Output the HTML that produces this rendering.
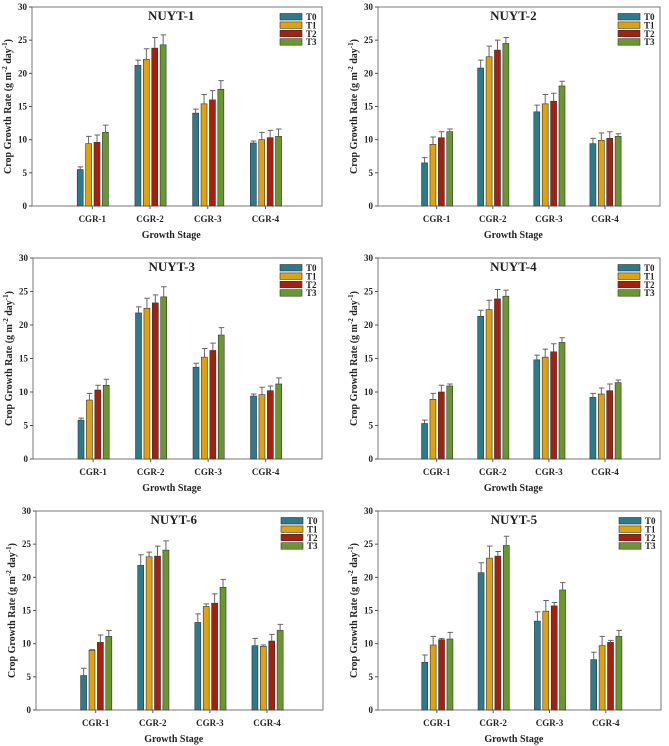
<!DOCTYPE html>
<html><head><meta charset="utf-8"><style>
html,body{margin:0;padding:0;background:#fff;}
svg{display:block;font-family:"Liberation Serif",serif;font-weight:bold;}
</style></head><body>
<svg id="c" width="669" height="746" viewBox="0 0 669 746" xmlns="http://www.w3.org/2000/svg"></svg>
<script>
const categories = ["CGR-1","CGR-2","CGR-3","CGR-4"];
const seriesNames = ["T0","T1","T2","T3"];
const yTicks = [0,5,10,15,20,25,30];
const panelTitles = ["NUYT-1","NUYT-2","NUYT-3","NUYT-4","NUYT-6","NUYT-5"];
// values[panel][series][category]
const nuyt1 = [[5.5,21.2,14.0,9.5],[9.4,22.1,15.4,10.0],[9.6,23.8,16.0,10.3],[11.1,24.3,17.6,10.5]];
const nuyt1Err = [[0.4,0.8,0.6,0.3],[1.1,1.6,1.4,1.1],[1.1,1.6,1.4,1.1],[1.1,1.5,1.3,1.1]];
const nuyt2 = [[6.5,20.8,14.2,9.4],[9.3,22.5,15.4,9.9],[10.3,23.5,15.8,10.2],[11.2,24.5,18.1,10.5]];
const nuyt2Err = [[0.8,1.2,1.0,0.8],[1.1,1.6,1.4,1.1],[0.9,1.5,1.2,1.0],[0.4,0.9,0.7,0.4]];
const nuyt3 = [[5.8,21.8,13.7,9.4],[8.8,22.5,15.2,9.6],[10.3,23.3,16.2,10.2],[11.0,24.2,18.5,11.2]];
const nuyt3Err = [[0.3,0.9,0.6,0.3],[1.0,1.5,1.3,1.1],[0.7,1.2,1.1,0.7],[0.9,1.5,1.1,0.9]];
const nuyt4 = [[5.3,21.3,14.8,9.2],[8.9,22.3,15.2,9.7],[10.0,23.9,16.0,10.2],[10.9,24.3,17.4,11.4]];
const nuyt4Err = [[0.5,0.9,0.7,0.6],[0.9,1.4,1.2,0.9],[1.0,1.4,1.2,1.0],[0.3,0.9,0.7,0.4]];
const nuyt6 = [[5.2,21.8,13.2,9.7],[9.0,23.1,15.6,9.6],[10.2,23.2,16.1,10.4],[11.1,24.1,18.5,12.0]];
const nuyt6Err = [[1.1,1.6,1.3,1.1],[0.1,0.7,0.4,0.2],[1.1,1.5,1.4,1.0],[0.9,1.4,1.2,0.9]];
const nuyt5 = [[7.2,20.7,13.4,7.6],[9.8,22.9,14.9,9.7],[10.6,23.2,15.7,10.2],[10.7,24.8,18.1,11.1]];
const nuyt5Err = [[1.1,1.5,1.4,1.1],[1.3,1.8,1.6,1.4],[0.2,0.7,0.5,0.3],[1.0,1.4,1.1,0.9]];
const allValues = [nuyt1,nuyt2,nuyt3,nuyt4,nuyt6,nuyt5];
const allErrs = [nuyt1Err,nuyt2Err,nuyt3Err,nuyt4Err,nuyt6Err,nuyt5Err];

const colors = ["#2d7a8c","#dfa20e","#a5210f","#6a9830"];
const boxes = [
 {l:32,r:322,t:7,b:206},{l:378,r:660,t:7,b:206},
 {l:33,r:322,t:258,b:459},{l:378,r:660,t:258,b:459},
 {l:36,r:323,t:511,b:710},{l:378,r:661,t:511,b:710}];
const NS="http://www.w3.org/2000/svg";
const svg=document.getElementById('c');
function mk(tag,attrs,parent){const e=document.createElementNS(NS,tag);for(const k in attrs)e.setAttribute(k,attrs[k]);(parent||svg).appendChild(e);return e;}

boxes.forEach((bx,p)=>{
  const g=mk('g',{});
  
  
  const w=bx.r-bx.l, h=bx.b-bx.t;
  const y=v=>bx.b-v/30*h;
  const xc=k=>bx.l+w*(0.208+0.199*k);
  const frame=mk('rect',{x:bx.l,y:bx.t,width:w,height:h,fill:'none',stroke:'#777','stroke-width':1},g);
  
  
  yTicks.forEach(t=>{
    mk('line',{x1:bx.l-3,x2:bx.l,y1:y(t),y2:y(t),stroke:'#555'},g);
    const tx=mk('text',{x:bx.l-5,y:y(t)+3,'font-size':9,'text-anchor':'end',fill:'#222'},g);
    tx.textContent=t;
    
    
  });
  categories.forEach((c,k)=>{
    mk('line',{x1:xc(k),x2:xc(k),y1:bx.b,y2:bx.b+3,stroke:'#555'},g);
    const tx=mk('text',{x:xc(k),y:bx.b+16,'font-size':9,'text-anchor':'middle',fill:'#222'},g);
    tx.textContent=c;
    
    
  });
  const bw=6, pitch=8.4;
  allValues[p].forEach((ser,s)=>{
    ser.forEach((v,k)=>{
      const x0=xc(k)-2*pitch+s*pitch+(pitch-bw)/2+0.5;
      const bar=mk('rect',{x:x0,y:y(v),width:bw,height:bx.b-y(v),fill:colors[s],stroke:'#333','stroke-width':0.6},g);
      
      
      const e=allErrs[p][s][k], cx=x0+bw/2;
      const eb=mk('path',{d:`M${cx},${y(v)}V${y(v+e)}M${cx-2.5},${y(v+e)}H${cx+3}`,stroke:'#666','stroke-width':1,fill:'none'},g);
      
      
    });
  });
  const title=mk('text',{x:bx.l+w*0.48,y:bx.t+13,'font-size':13,'text-anchor':'middle',fill:'#222'},g);
  title.textContent=panelTitles[p];
  
  
  seriesNames.forEach((n,s)=>{
    const ly=bx.t+6.5+s*8.4;
    const lb=mk('rect',{x:bx.r-42,y:ly,width:22,height:6.5,fill:colors[s],stroke:'#333','stroke-width':0.6},g);
    
    
    const lt=mk('text',{x:bx.r-16,y:ly+6.5,'font-size':9,fill:'#222'},g);
    lt.textContent=n;
    
    
  });
  const xt=mk('text',{x:bx.l+w*0.48,y:bx.b+32,'font-size':10,'text-anchor':'middle',fill:'#222'},g);
  xt.textContent='Growth Stage';
  
  
  const yx=bx.l-21, yy=bx.t+h/2;
  const yt=mk('text',{x:yx,y:yy,'font-size':10,'text-anchor':'middle',fill:'#222',transform:`rotate(-90 ${yx} ${yy})`},g);
  yt.innerHTML='Crop Growth Rate (g m<tspan dy="-4" font-size="7">-2</tspan><tspan dy="4"> day</tspan><tspan dy="-4" font-size="7">-1</tspan><tspan dy="4">)</tspan>';
  
  
});
</script>
</body></html>
